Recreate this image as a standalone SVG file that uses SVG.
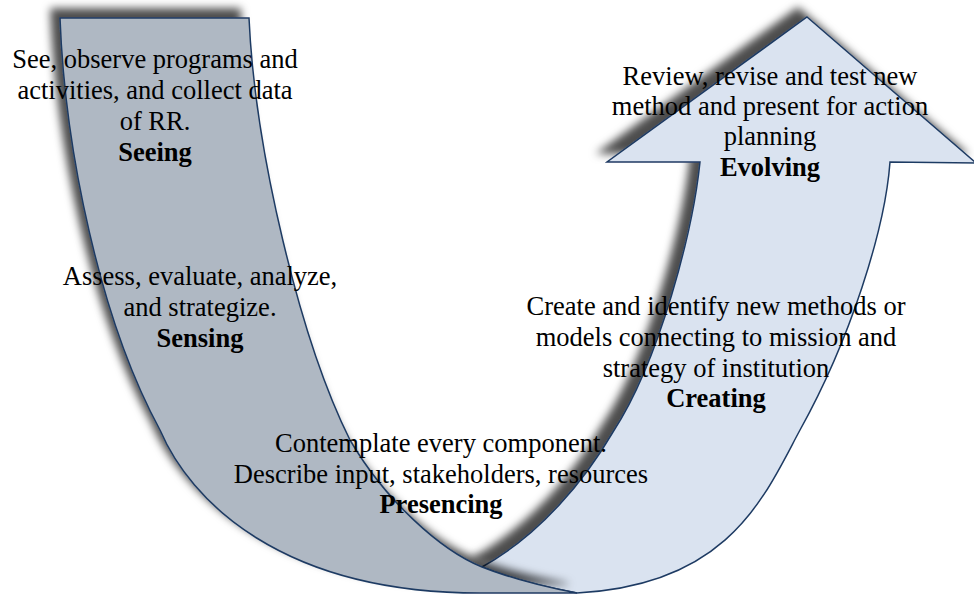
<svg xmlns="http://www.w3.org/2000/svg" width="974" height="596" viewBox="0 0 974 596">
<defs>
<filter id="sh" x="-20%" y="-20%" width="140%" height="140%">
<feGaussianBlur in="SourceAlpha" stdDeviation="4.5"/>
<feOffset dx="-9" dy="-9" result="b"/>
<feFlood flood-color="#000" flood-opacity="0.7"/>
<feComposite in2="b" operator="in"/>
<feMerge><feMergeNode/><feMergeNode in="SourceGraphic"/></feMerge>
</filter>
</defs>
<style>
.band{stroke:#1F3B63;stroke-width:1.5;stroke-linejoin:miter}
.left{fill:#AFB8C3}
.right{fill:#DAE3F0}
text{font-family:"Liberation Serif","Times New Roman",serif;font-size:26.5px;fill:#000;text-anchor:middle}
.b{font-weight:bold}
</style>
<rect width="974" height="596" fill="#fff"/>
<g id="right-band">
<path class="band right" filter="url(#sh)" d="M807,17 L976,163 L890,162 C885,230 850,340 800,430 C765,495 730,585 577,593 C550,588 515,580 482,567 C540,535 585,480 613,432 C660,360 693,230 700,162 L607,162 Z"/>
</g>
<g id="left-band">
<path class="band left" filter="url(#sh)" d="M60,18 L249,18 C255,150 300,340 350,440 C385,500 440,550 482,567 C515,580 550,588 577,593 L480,593 C280,593 190,500 160,430 C100,320 65,150 60,18 Z"/>
</g>
<g id="seeing">
<text x="155" y="68">See, observe programs and</text>
<text x="155" y="99">activities, and collect data</text>
<text x="155" y="130">of RR.</text>
<text class="b" x="155" y="161">Seeing</text>
</g>
<g id="sensing">
<text x="200" y="285">Assess, evaluate, analyze,</text>
<text x="200" y="316">and strategize.</text>
<text class="b" x="200" y="347">Sensing</text>
</g>
<g id="presencing">
<text x="441" y="452">Contemplate every component.</text>
<text x="441" y="483">Describe input, stakeholders, resources</text>
<text class="b" x="441" y="513">Presencing</text>
</g>
<g id="creating">
<text x="716" y="315">Create and identify new methods or</text>
<text x="716" y="346">models connecting to mission and</text>
<text x="716" y="377">strategy of institution</text>
<text class="b" x="716" y="407">Creating</text>
</g>
<g id="evolving">
<text x="770" y="85">Review, revise and test new</text>
<text x="770" y="115">method and present for action</text>
<text x="770" y="145">planning</text>
<text class="b" x="770" y="176">Evolving</text>
</g>
</svg>
